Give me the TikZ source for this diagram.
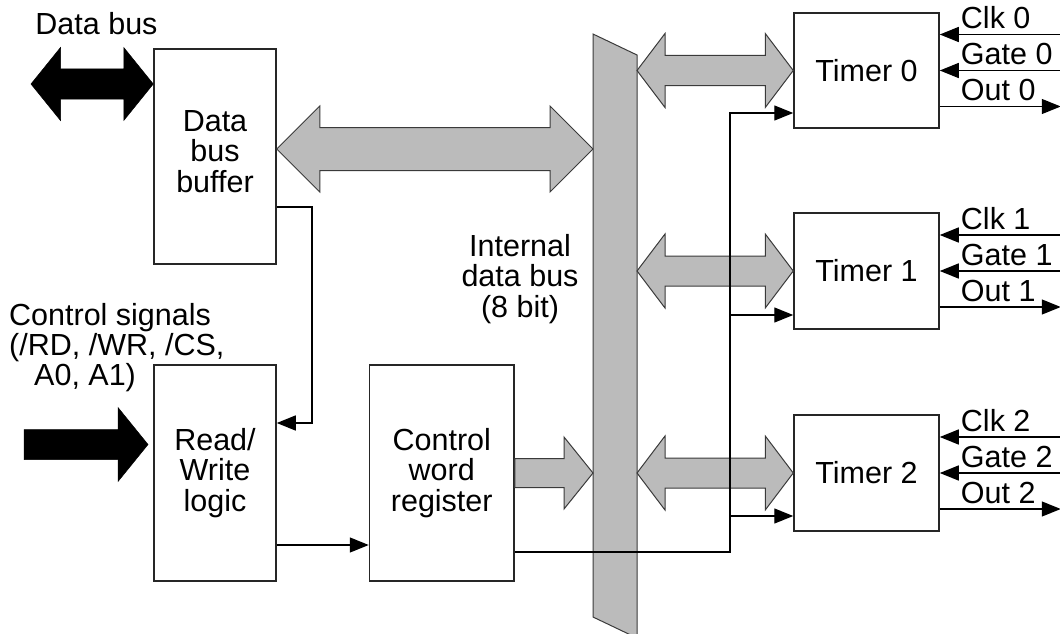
\documentclass[tikz,border=0pt]{standalone}
\usepackage{fontspec}
\setmainfont{Liberation Sans}
\usetikzlibrary{arrows.meta,calc}
\definecolor{busgray}{HTML}{BBBBBB}
\definecolor{edgegray}{HTML}{3A3A3A}

% Fat double-headed bus arrow: style, left tip, right tip, head length, head half-height, shaft half-height
\newcommand\fatdbl[6]{%
  \path[#1] let \p1=(#2), \p2=(#3) in
    (\x1,\y1) -- ({\x1+#4},{\y1+#5}) -- ({\x1+#4},{\y1+#6}) -- ({\x2-#4},{\y1+#6})
    -- ({\x2-#4},{\y1+#5}) -- (\x2,\y1) -- ({\x2-#4},{\y1-#5}) -- ({\x2-#4},{\y1-#6})
    -- ({\x1+#4},{\y1-#6}) -- ({\x1+#4},{\y1-#5}) -- cycle;}
% Fat single-headed bus arrow: style, shaft start, tip, head length, head half-height, shaft half-height
\newcommand\fatsgl[6]{%
  \path[#1] let \p1=(#2), \p2=(#3) in
    (\x1,{\y1+#6}) -- ({\x2-#4},{\y1+#6}) -- ({\x2-#4},{\y1+#5}) -- (\x2,\y1)
    -- ({\x2-#4},{\y1-#5}) -- ({\x2-#4},{\y1-#6}) -- (\x1,{\y1-#6}) -- cycle;}

\begin{document}
\begin{tikzpicture}[x=1pt,y=-1pt,
  txt/.style={font=\fontsize{30.5}{30.5}\selectfont},
  box/.style={txt,draw=black!85,line width=1.5pt,align=center,inner sep=0pt},
  lbl/.style={txt,inner sep=0pt},
  fatblack/.style={fill=black,draw=black,line width=0.5pt},
  fatgray/.style={fill=busgray,draw=edgegray,line width=1pt},
  sig/.style={draw=black,line width=1.4pt,-{Triangle[length=19pt,width=15pt]}}]
\useasboundingbox (0,0) rectangle (1060,634);

% internal data bus
\draw[fatgray] (593,34) coordinate (busNW) -- (637,55) coordinate (busNE)
  -- (637,638) -- (593,617) -- cycle;

% blocks
\node[box,minimum width=122pt,minimum height=215pt] (dbb) at (215,156.5) {};
\node[lbl,align=center] (dbbtext) at ($(dbb.center)+(0,-5)$) {Data\\bus\\buffer};
\node[box,minimum width=122pt,minimum height=216pt] (rw) at (215,473) {Read/\\Write\\logic};
\node[box,minimum width=144.5pt,minimum height=216pt] (cwr) at (441.75,473) {Control\\word\\register};
\node[box,minimum width=145pt,minimum height=115pt] (t0) at (866.5,70.5) {Timer 0};
\node[box,minimum width=145pt,minimum height=116pt] (t1) at (866.5,271) {Timer 1};
\node[box,minimum width=145pt,minimum height=116pt] (t2) at (866.5,473) {Timer 2};

% free text
\node[lbl,anchor=base] (dblbl) at (96.5,35) {Data bus};
\node[lbl,anchor=base west] (cs1) at (9,325) {Control signals};
\node[lbl,anchor=base west] (cs2) at (9,355) {(/RD, /WR, /CS,};
\node[lbl,anchor=base west] (cs3) at (34,385) {A0, A1)};
\node[lbl,align=center] (ibus) at (520,279) {Internal\\data bus\\(8 bit)};

% external buses
\coordinate (dbin) at (31,84);
\fatdbl{fatblack}{dbin}{dbb.west |- dbin}{29.5pt}{36.5pt}{15pt}
\coordinate (cin) at (24,444.5);
\coordinate (ctip) at (148,444.5);
\fatsgl{fatblack}{cin}{ctip}{30pt}{37pt}{15pt}

% internal bus arrows
\coordinate (g0) at (0,149);
\fatdbl{fatgray}{dbb.east |- g0}{busNW |- g0}{43pt}{43pt}{21.5pt}
\fatsgl{fatgray}{cwr.east}{busNW |- cwr.east}{29pt}{36pt}{14.5pt}
\foreach \t in {t0,t1,t2}{
  \fatdbl{fatgray}{busNE |- \t.west}{\t.west}{28pt}{37pt}{15pt}
}

% control connections
\coordinate (k1) at (312,207);
\coordinate (k2) at (312,423);
\draw[sig] (dbb.east |- k1) -- (k1) -- (k2) -- (rw.east |- k2);
\coordinate (k3) at (0,545);
\draw[sig] (rw.east |- k3) -- (cwr.west |- k3);
\coordinate (k4) at (730,552);
\coordinate (k5) at (730,113);
\draw[sig] (cwr.east |- k4) -- (k4) -- (k5) -- (t0.west |- k5);
\coordinate (k6) at (730,315);
\draw[sig] (k6) -- (t1.west |- k6);
\coordinate (k7) at (730,516);
\draw[sig] (k7) -- (t2.west |- k7);

% timer inputs and outputs
\foreach \t/\n in {t0/0,t1/1,t2/2}{
  \coordinate (clk\n) at ($(\t.east)+(121,-36)$);
  \coordinate (gate\n) at ($(\t.east)+(121,0)$);
  \coordinate (out\n) at ($(\t.east)+(121,36)$);
  \draw[sig] (clk\n) -- (clk\n -| \t.east);
  \draw[sig] (gate\n) -- (gate\n -| \t.east);
  \draw[sig] (out\n -| \t.east) -- (out\n);
  \node[lbl,anchor=base west] (clkl\n) at ($(\t.east)+(21,-42)$) {Clk \n};
  \node[lbl,anchor=base west] (gatel\n) at ($(\t.east)+(21,-6)$) {Gate \n};
  \node[lbl,anchor=base west] (outl\n) at ($(\t.east)+(21,30)$) {Out \n};
}
\end{tikzpicture}
\end{document}
